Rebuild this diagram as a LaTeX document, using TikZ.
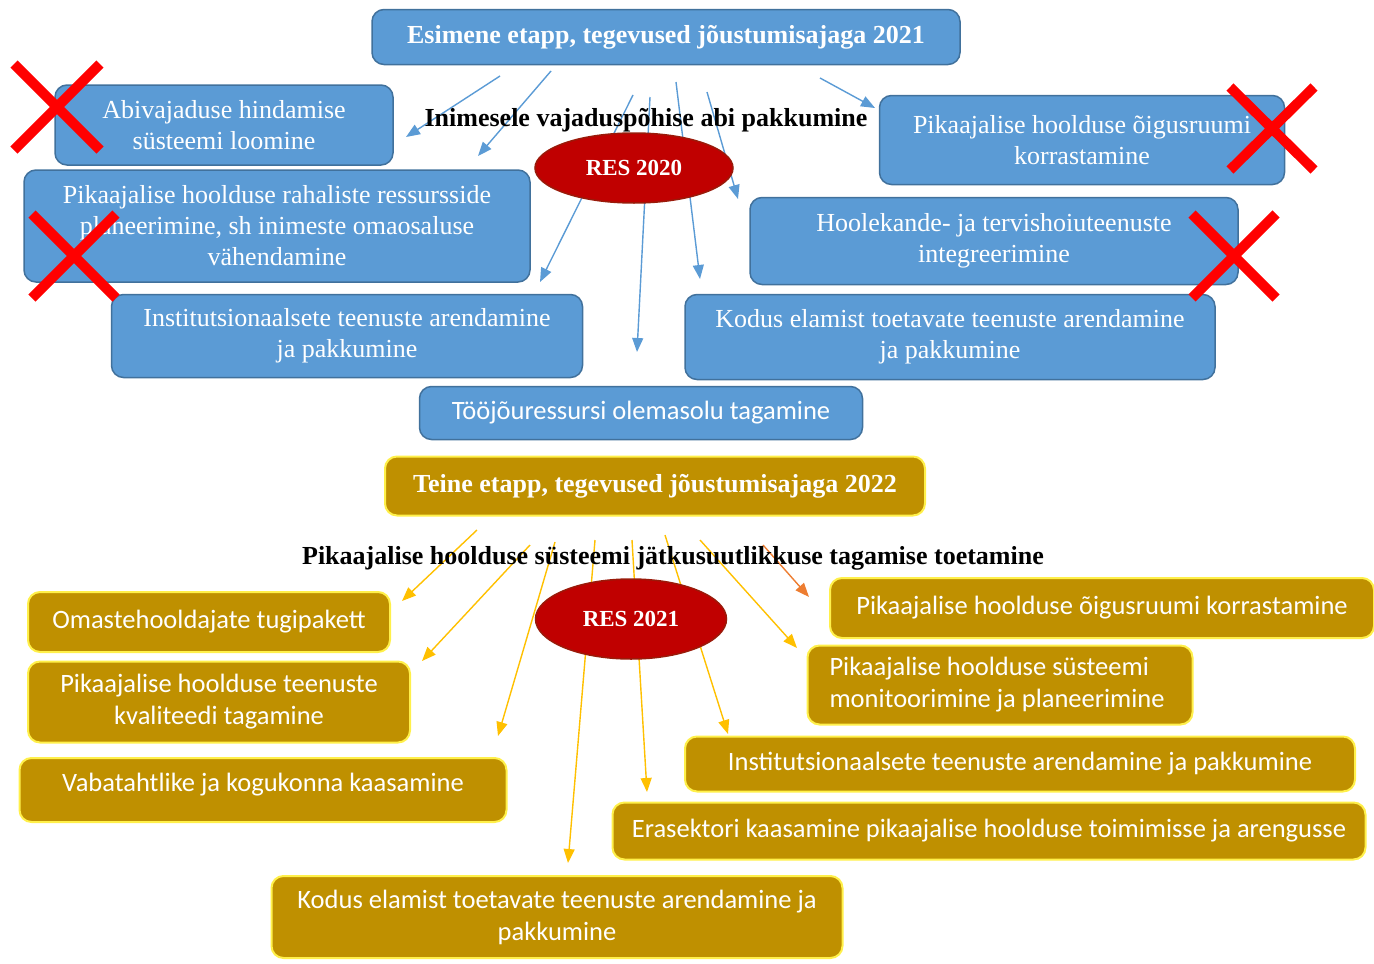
\documentclass[tikz,border=0pt]{standalone}
\usepackage{fontspec}
\setmainfont{Liberation Serif}
\newfontfamily\calfont{Carlito}
\usetikzlibrary{arrows.meta,shapes.geometric}
\definecolor{bfill}{HTML}{5B9BD5}
\definecolor{bdraw}{HTML}{41719C}
\definecolor{gfill}{HTML}{BF9000}
\definecolor{gdraw}{HTML}{FFF04A}
\definecolor{garrow}{HTML}{FFC000}
\definecolor{oarrow}{HTML}{ED7D31}
\definecolor{efill}{HTML}{C00000}
\definecolor{edraw}{HTML}{9A1A0A}
\definecolor{xred}{HTML}{FF0000}
\tikzset{
  bluebox/.style={draw=bdraw,fill=bfill,line width=1.5pt,rounded corners=12pt,text=white,align=center,inner sep=0pt,font=\fontsize{26}{31}\selectfont},
  bluesans/.style={bluebox,font=\calfont\fontsize{26.5}{31}\selectfont},
  goldbox/.style={draw=gdraw,fill=gfill,line width=2pt,rounded corners=12pt,text=white,align=center,inner sep=0pt,font=\calfont\fontsize{26.5}{32}\selectfont},
  titlefont/.style={font=\bfseries\fontsize{26}{30}\selectfont},
  lbl/.style={font=\bfseries\fontsize{26}{30}\selectfont,text=black,inner sep=0pt},
  resell/.style={ellipse,draw=edraw,fill=efill,line width=1.5pt,text=white,inner sep=0pt,font=\bfseries\fontsize{23}{27}\selectfont},
  barr/.style={draw=bfill,line width=1.4pt,-{Triangle[length=14pt,width=11pt]}},
  garr/.style={draw=garrow,line width=1.4pt,-{Triangle[length=14pt,width=11pt]}},
  oarr/.style={draw=oarrow,line width=1.4pt,-{Triangle[length=14pt,width=11pt]}},
  xmark/.style={draw=xred,line width=10pt},
}
\begin{document}
\begin{tikzpicture}[x=1pt,y=-1pt]
\useasboundingbox (0,0) rectangle (1374,964);

% ---- arrow end points (stage 1) ----
\coordinate (s1) at (500,76);  \coordinate (e1) at (406,137);
\coordinate (s2) at (551,71);  \coordinate (e2) at (478,156);
\coordinate (s3) at (633,95);  \coordinate (e3) at (540,282);
\coordinate (s4) at (650,97);  \coordinate (e4) at (637,352);
\coordinate (s5) at (676,82);  \coordinate (e5) at (700,279);
\coordinate (s6) at (707,92);  \coordinate (e6) at (738,199);
\coordinate (s7) at (820,78);  \coordinate (e7) at (875,108);
% ---- arrow end points (stage 2) ----
\coordinate (t1) at (477,530); \coordinate (f1) at (402,601);
\coordinate (t2) at (530,545); \coordinate (f2) at (422,661);
\coordinate (t3) at (555,542); \coordinate (f3) at (498,736);
\coordinate (t4) at (595,540); \coordinate (f4) at (568,863);
\coordinate (t5) at (632,540); \coordinate (f5) at (647,792);
\coordinate (t6) at (665,535); \coordinate (f6) at (728,734);
\coordinate (t7) at (700,540); \coordinate (f7) at (797,648);
\coordinate (t8) at (763,545); \coordinate (f8) at (809,597);

\foreach \i in {1,...,7} {\draw[barr] (s\i) -- (e\i);}
\foreach \i in {1,...,7} {\draw[garr] (t\i) -- (f\i);}
\draw[oarr] (t8) -- (f8);

% ---- stage 1 ----
\node[bluebox,titlefont,minimum width=588pt,minimum height=55pt] (T1) at (666,37) {Esimene etapp, tegevused jõustumisajaga 2021};
\node[bluebox,minimum width=338pt,minimum height=80pt] (abi) at (224,125) {Abivajaduse hindamise\\süsteemi loomine};
\node[bluebox,minimum width=405pt,minimum height=89pt] (oig) at (1082,140) {Pikaajalise hoolduse õigusruumi\\korrastamine};
\node[bluebox,minimum width=506pt,minimum height=112pt] (rah) at (277,226) {Pikaajalise hoolduse rahaliste ressursside\\planeerimine, sh inimeste omaosaluse\\vähendamine};
\node[bluebox,minimum width=488pt,minimum height=87pt] (hool) at (994,241) {Hoolekande- ja tervishoiuteenuste\\integreerimine};
\node[bluebox,minimum width=471pt,minimum height=83pt] (inst1) at (347,336) {Institutsionaalsete teenuste arendamine\\ja pakkumine};
\node[bluebox,minimum width=530pt,minimum height=85pt] (kod1) at (950,337) {Kodus elamist toetavate teenuste arendamine\\ja pakkumine};
\node[bluesans,minimum width=443pt,minimum height=53pt] (too) at (641,413) {Tööjõuressursi olemasolu tagamine};
\node[lbl] (L1) at (646,120) {Inimesele vajaduspõhise abi pakkumine};
\node[resell,minimum width=198pt,minimum height=70pt] (E1) at (634,168) {RES 2020};

% ---- stage 2 ----
\node[goldbox,titlefont,minimum width=540pt,minimum height=59pt] (T2) at (655,486) {Teine etapp, tegevused jõustumisajaga 2022};
\node[lbl] (L2) at (673,558) {Pikaajalise hoolduse süsteemi jätkusuutlikkuse tagamise toetamine};
\node[resell,minimum width=191pt,minimum height=80pt] (E2) at (631,619) {RES 2021};
\node[goldbox,minimum width=362pt,minimum height=60pt] (om) at (209,622) {Omastehooldajate tugipakett};
\node[goldbox,minimum width=544pt,minimum height=60pt] (oig2) at (1102,608) {Pikaajalise hoolduse õigusruumi korrastamine};
\node[goldbox,minimum width=382pt,minimum height=81pt] (kval) at (219,702) {Pikaajalise hoolduse teenuste\\kvaliteedi tagamine};
\node[goldbox,align=flush left,text width=341pt,inner xsep=22pt,minimum height=79pt] (mon) at (1000,685) {Pikaajalise hoolduse süsteemi\\monitoorimine ja planeerimine};
\node[goldbox,minimum width=487pt,minimum height=64pt,text depth=16pt] (vab) at (263,790) {Vabatahtlike ja kogukonna kaasamine};
\node[goldbox,minimum width=670pt,minimum height=55pt] (inst2) at (1020,764) {Institutsionaalsete teenuste arendamine ja pakkumine};
\node[goldbox,minimum width=753pt,minimum height=57pt] (era) at (989,831) {Erasektori kaasamine pikaajalise hoolduse toimimisse ja arengusse};
\node[goldbox,minimum width=571pt,minimum height=82pt] (kod2) at (557,917) {Kodus elamist toetavate teenuste arendamine ja\\pakkumine};

% ---- red crosses ----
\draw[xmark] (14,64) -- (100,150) (100,64) -- (14,150);
\draw[xmark] (1230,87) -- (1314,170) (1314,87) -- (1230,170);
\draw[xmark] (32,214) -- (116,298) (116,214) -- (32,298);
\draw[xmark] (1192,214) -- (1276,298) (1276,214) -- (1192,298);
\end{tikzpicture}
\end{document}
